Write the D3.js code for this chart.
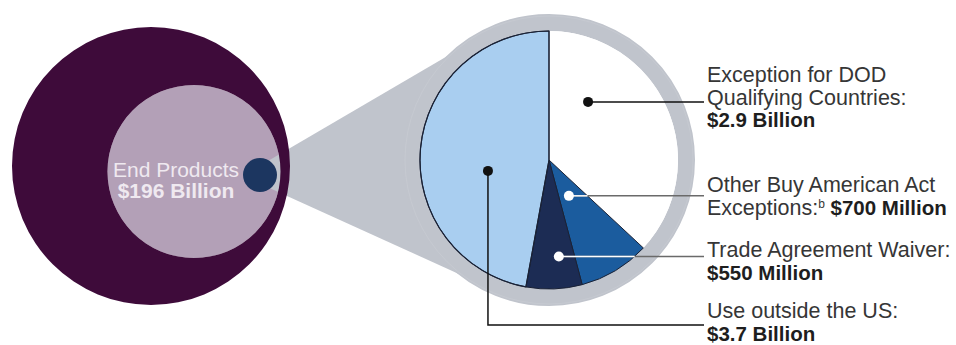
<!DOCTYPE html>
<html>
<head>
<meta charset="utf-8">
<script src="https://cdn.jsdelivr.net/npm/d3@7"></script>
<style>
    body { margin: 0; background: #fff; }
    text { font-family: "Liberation Sans", Arial, sans-serif; }
    .lbl { font-size: 21.5px; fill: #363636; }
    .val { font-size: 20.5px; font-weight: bold; fill: #1e1e1e; }
</style>
</head>
<body>
<svg id="chart" width="956" height="345"></svg>
<script>
// Data
var categories = ["Exception for DOD Qualifying Countries", "Other Buy American Act Exceptions",
    "Trade Agreement Waiver", "Use outside the US"];
var valuesMillions = [2900, 700, 550, 3700];
var valueLabels = ["$2.9 Billion", "$700 Million", "$550 Million", "$3.7 Billion"];
var labelLines = [["Exception for DOD", "Qualifying Countries:"], ["Other Buy American Act", "Exceptions:"],
    ["Trade Agreement Waiver:"], ["Use outside the US:"]];
var totalLines = ["End Products", "$196 Billion"];

// Layout
var sliceColors = ["#ffffff", "#1b5c9e", "#1c2c54", "#a9cef0"];
var dotFill = ["#111", "#fff", "#fff", "#111"];
var dotAngleFrac = [0.255, 0.56, 0.36, 0.41];
var dotRadius = [70, 41, 97, 62];
var labelBaseline = [82, 192, 257, 318];
var elbowY = [null, null, null, 325];
var labelX = 707, lineEnd = 704, lineH = 22.5;

var outer = {x: 151, y: 166, r: 139},
    inner = {x: 194, y: 171.5, r: 86.5},
    bubble = {x: 260, y: 175, r: 17},
    pieC = {x: 549, y: 160}, pieR = 129, ringR = 146;

var svg = d3.select("#chart");

// funnel: external tangents between bubble (small) and the zoom circle
function tangents(a, ra, b, rb) {
    var dx = b.x - a.x, dy = b.y - a.y, d = Math.sqrt(dx * dx + dy * dy);
    var phi = Math.atan2(dy, dx), al = Math.acos((ra - rb) / d);
    return [phi - al, phi + al].map(function (t) {
        return [[a.x + ra * Math.cos(t), a.y + ra * Math.sin(t)], [b.x + rb * Math.cos(t), b.y + rb * Math.sin(t)]];
    });
}
var tg = tangents(bubble, 8, pieC, 141);

svg.append("circle")
    .attr("cx", inner.x).attr("cy", inner.y).attr("r", inner.r)
    .attr("fill", "#b3a0b7");

svg.append("path")
    .attr("d", "M" + tg[0][0] + "L" + tg[0][1] + "L" + tg[1][1] + "L" + tg[1][0] + "Z")
    .attr("fill", "#c0c4cc");

// purple annulus (outer minus inner) so funnel shows inside the mauve disc
var ring = d3.path();
ring.moveTo(outer.x + outer.r, outer.y);
ring.arc(outer.x, outer.y, outer.r, 0, 2 * Math.PI);
ring.moveTo(inner.x + inner.r, inner.y);
ring.arc(inner.x, inner.y, inner.r, 0, 2 * Math.PI);
svg.append("path")
    .attr("d", ring.toString())
    .attr("fill", "#3e0b3a")
    .attr("fill-rule", "evenodd");

svg.append("circle")
    .attr("cx", bubble.x).attr("cy", bubble.y).attr("r", bubble.r)
    .attr("fill", "#1c3660");

svg.selectAll(".total")
    .data(totalLines)
    .enter()
    .append("text")
    .attr("x", 176)
    .attr("y", function (d, i) { return 177 + i * 21; })
    .attr("text-anchor", "middle")
    .style("font-size", "21px")
    .style("font-weight", function (d, i) { return i ? "bold" : "normal"; })
    .attr("fill", "#efe9f0")
    .text(function (d) { return d; });

// zoom ring
svg.append("circle")
    .attr("cx", pieC.x).attr("cy", pieC.y).attr("r", (pieR + ringR) / 2)
    .attr("fill", "none")
    .attr("stroke", "#c0c4cc")
    .attr("stroke-width", ringR - pieR);
svg.append("circle")
    .attr("cx", pieC.x).attr("cy", pieC.y).attr("r", ringR - 2)
    .attr("fill", "none")
    .attr("stroke", "#c9ccd3")
    .attr("stroke-width", 0.6);

// pie
var pie = d3.pie().sort(null).value(function (d) { return d; });
var arcs = pie(valuesMillions);
var arc = d3.arc().innerRadius(0).outerRadius(pieR);

var g = svg.append("g").attr("transform", "translate(" + pieC.x + "," + pieC.y + ")");
g.selectAll(".slice")
    .data(arcs)
    .enter()
    .append("path")
    .attr("class", "slice")
    .attr("d", arc)
    .attr("fill", function (d, i) { return sliceColors[i]; })
    .attr("stroke", function (d, i) { return i === 0 ? "none" : "#1a2236"; })
    .attr("stroke-width", 1);
// redraw the light-blue outline on top so it shows along the white slice
g.append("path")
    .datum(arcs[3])
    .attr("d", arc)
    .attr("fill", "none")
    .attr("stroke", "#1a2236")
    .attr("stroke-width", 1.2);

// dots and connectors
var dots = arcs.map(function (d, i) {
    var a = d.startAngle + dotAngleFrac[i] * (d.endAngle - d.startAngle);
    return [pieC.x + dotRadius[i] * Math.sin(a), pieC.y - dotRadius[i] * Math.cos(a)];
});
var whiteEdge = arcs[0].endAngle; // boundary between white slice and the blue ones

dots.forEach(function (p, i) {
    if (elbowY[i] !== null) {
        svg.append("path")
            .attr("d", "M" + p + "V" + elbowY[i] + "H" + lineEnd)
            .attr("fill", "none").attr("stroke", "#111").attr("stroke-width", 1.5);
    } else if (dotFill[i] === "#111") {
        svg.append("line")
            .attr("x1", p[0]).attr("y1", p[1]).attr("x2", lineEnd).attr("y2", p[1])
            .attr("stroke", "#111").attr("stroke-width", 1.5);
    } else {
        // white inside the blue slices, grey once it leaves them
        var xEdge = pieC.x + Math.sqrt(pieR * pieR - Math.pow(p[1] - pieC.y, 2));
        var t = (p[1] - pieC.y) / -Math.cos(whiteEdge);
        if (t < pieR) xEdge = pieC.x + t * Math.sin(whiteEdge);
        svg.append("line")
            .attr("x1", p[0]).attr("y1", p[1]).attr("x2", lineEnd).attr("y2", p[1])
            .attr("stroke", "#6a6a6a").attr("stroke-width", 1.5);
        svg.append("line")
            .attr("x1", p[0]).attr("y1", p[1]).attr("x2", xEdge).attr("y2", p[1])
            .attr("stroke", "#fff").attr("stroke-width", 1.5);
    }
});

svg.selectAll(".dot")
    .data(dots)
    .enter()
    .append("circle")
    .attr("cx", function (d) { return d[0]; })
    .attr("cy", function (d) { return d[1]; })
    .attr("r", 5)
    .attr("fill", function (d, i) { return dotFill[i]; });

// labels
categories.forEach(function (c, i) {
    var lines = labelLines[i];
    lines.forEach(function (t, j) {
        var txt = svg.append("text")
            .attr("class", "lbl")
            .attr("x", labelX)
            .attr("y", labelBaseline[i] + j * lineH)
            .text(t);
        if (i === 1 && j === 1) {
            txt.append("tspan")
                .attr("dy", -7)
                .style("font-size", "12px")
                .text("b");
            txt.append("tspan")
                .attr("dy", 7)
                .attr("class", "val")
                .text(" " + valueLabels[i]);
        }
    });
    if (i !== 1) {
        svg.append("text")
            .attr("class", "val")
            .attr("x", labelX)
            .attr("y", labelBaseline[i] + lines.length * lineH)
            .text(valueLabels[i]);
    }
});
</script>
</body>
</html>
